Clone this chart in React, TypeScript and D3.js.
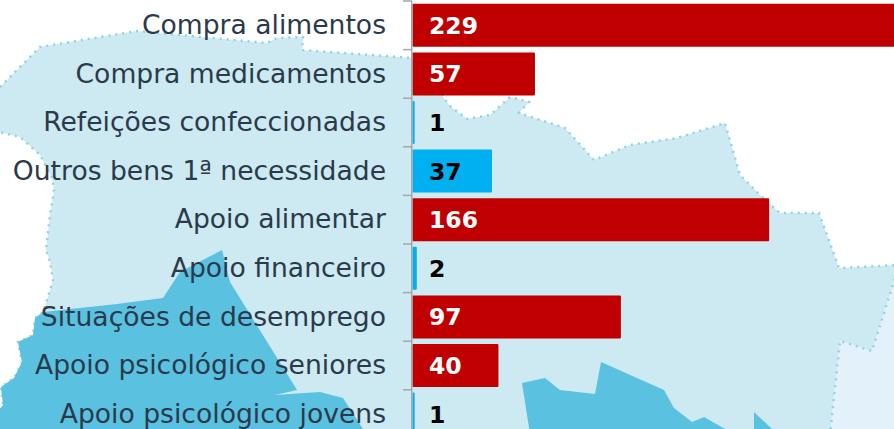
import React, { useEffect, useRef } from "react";
import * as d3 from "d3";

const categories = [
  "Compra alimentos",
  "Compra medicamentos",
  "Refeições confeccionadas",
  "Outros bens 1ª necessidade",
  "Apoio alimentar",
  "Apoio financeiro",
  "Situações de desemprego",
  "Apoio psicológico seniores",
  "Apoio psicológico jovens",
];
const values = [229, 57, 1, 37, 166, 2, 97, 40, 1];
// which bars are highlighted in red
const highlighted = [true, true, false, false, true, false, true, true, false];

// background map outlines, traced in picture pixels
const regionMain: [number, number][] = [
  [-5, 92], [40, 47], [137, 31], [267, 43], [277, 38], [303, 37], [302, 50], [412, 58], [435, 60], [443, 97], [450, 106],
  [467, 119], [490, 115], [510, 97], [529, 102], [519, 113], [565, 128], [594, 160], [630, 145],
  [677, 138], [725, 123], [740, 175], [760, 195], [780, 213], [819, 213], [839, 268], [899, 265],
  [872, 351], [840, 341], [830, 434], [-5, 434], [-5, 415], [3, 405], [1, 387], [14, 378], [22, 362], [18, 342], [33, 335],
  [35, 318], [43, 312], [47, 300], [50, 290], [53, 280], [50, 262], [46, 250], [50, 215], [54, 190], [52, 178],
  [40, 155], [20, 137], [-5, 131],
];
const regionEast: [number, number][] = [[840, 341], [872, 351], [899, 265], [899, 434], [830, 434]];
const regionDarkWest: [number, number][] = [
  [43, 312], [117, 304], [163, 298], [180, 272], [222, 250], [230, 282], [297, 390], [275, 395],
  [320, 392], [343, 398], [363, 429], [530, 434], [-5, 434], [-5, 415], [3, 405], [1, 387], [14, 378], [22, 362], [18, 342], [33, 335], [35, 318],
];
const regionDarkMid: [number, number][] = [
  [522, 383], [545, 378], [560, 390], [595, 394], [601, 362], [664, 390], [674, 408], [692, 422],
  [704, 417], [734, 434], [530, 434],
];
const regionDarkEast: [number, number][] = [[754, 412], [772, 429], [776, 434], [754, 434]];

const App = () => {
  const chartRef = useRef<SVGSVGElement>(null);

  useEffect(() => {
    const svg = d3.select(chartRef.current);
    svg.selectAll("*").remove();

    const x = d3.scaleLinear().domain([0, 229]).range([412.5, 904.5]);
    const y = d3.scaleBand<string>()
      .domain(categories)
      .range([1, 438.4])
      .paddingInner(0.115)
      .paddingOuter(0.0575);
    const line = d3.line().curve(d3.curveLinearClosed);

    // map
    const map = svg.append("g");
    map.append("path").attr("d", line(regionEast)).attr("fill", "#e3f2fa");
    map.append("path")
      .attr("d", line(regionMain))
      .attr("fill", "#cde9f2")
      .attr("stroke", "#93d2e6")
      .attr("stroke-width", 2.5)
      .attr("stroke-dasharray", "2,5");
    [regionDarkWest, regionDarkMid, regionDarkEast].forEach(r => {
      map.append("path").attr("d", line(r)).attr("fill", "#5ac1e1");
    });

    // bars
    svg.selectAll(".bar")
      .data(categories)
      .enter()
      .append("rect")
      .attr("class", "bar")
      .attr("x", x(0))
      .attr("y", d => y(d)!)
      .attr("width", (d, i) => x(values[i]) - x(0))
      .attr("height", y.bandwidth())
      .attr("rx", 1)
      .attr("fill", (d, i) => (highlighted[i] ? "#c00000" : "#00b0f0"));

    // axis line and ticks between the bands
    svg.append("line")
      .attr("x1", 411.75).attr("x2", 411.75)
      .attr("y1", 1).attr("y2", 429)
      .attr("stroke", "#a6a6a6")
      .attr("stroke-width", 1.5);
    svg.selectAll(".tick")
      .data(categories)
      .enter()
      .append("line")
      .attr("class", "tick")
      .attr("x1", 403).attr("x2", 412)
      .attr("y1", d => y(d)! - y.step() * 0.0575)
      .attr("y2", d => y(d)! - y.step() * 0.0575)
      .attr("stroke", "#a6a6a6")
      .attr("stroke-width", 1.5);

    // category labels
    svg.selectAll(".name-label")
      .data(categories)
      .enter()
      .append("text")
      .attr("class", "name-label")
      .attr("x", 386)
      .attr("y", d => y(d)! + y.bandwidth() / 2)
      .attr("dy", "0.33em")
      .attr("text-anchor", "end")
      .attr("fill", "#2b3a4a")
      .style("font-family", "'DejaVu Sans'")
      .style("font-size", "26.6px")
      .text(d => d);

    // value labels
    svg.selectAll(".text-label")
      .data(categories)
      .enter()
      .append("text")
      .attr("class", "text-label")
      .attr("x", 429)
      .attr("y", d => y(d)! + y.bandwidth() / 2)
      .attr("dy", "0.36em")
      .attr("fill", (d, i) => (highlighted[i] ? "#ffffff" : "#000000"))
      .style("font-family", "'DejaVu Sans'")
      .style("font-weight", "bold")
      .style("font-size", "23.5px")
      .text((d, i) => values[i]);
  }, []);

  return (
    <svg
      ref={chartRef}
      width="894"
      height="429"
      style={{ position: "fixed", left: 0, top: 0, display: "block", background: "#ffffff" }}
    />
  );
};

export default App;
